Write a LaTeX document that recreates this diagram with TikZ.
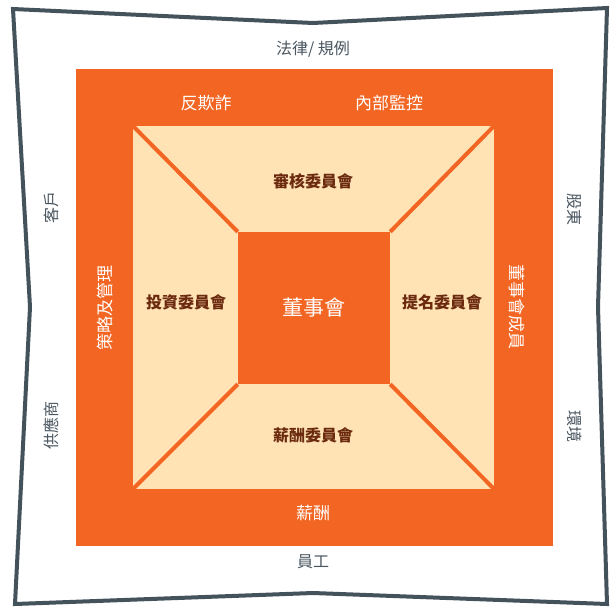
\documentclass[tikz,border=0pt]{standalone}
\usepackage{fontspec}
\setmainfont{Noto Sans CJK TC}

\definecolor{boardorange}{HTML}{F26522}
\definecolor{boardpeach}{HTML}{FFE3B5}
\definecolor{framegray}{HTML}{44525C}
\definecolor{labelgray}{HTML}{4A5660}
\definecolor{committeebrown}{HTML}{6B2A0E}

\begin{document}
\begin{tikzpicture}[x=1pt,y=-1pt]

\tikzstyle{outerlabel}=[text=labelgray,font=\fontsize{16}{16}\selectfont]
\tikzstyle{bandlabel}=[text=white,font=\fontsize{17}{17}\selectfont]
\tikzstyle{committee}=[text=committeebrown,font=\fontsize{16}{16}\selectfont\bfseries]
\tikzstyle{diagonal}=[draw=boardorange,line width=4pt]

\useasboundingbox (0,0) rectangle (613,608);

% pinched outer frame
\draw[framegray,line width=4pt,fill=white] (13,9) -- (313,23) -- (607,8)
  -- (598,307) -- (607,604) -- (313,593) -- (15,604) -- (30,307) -- cycle;

\node[fill=boardorange,minimum size=477pt,inner sep=0pt] (band) at (314.5,307.5) {};
\node[fill=boardpeach,minimum width=361pt,minimum height=363pt,inner sep=0pt] (ring) at (313.5,307.5) {};
\node[fill=boardorange,minimum size=152pt,inner sep=0pt,text=white,
  font=\fontsize{21}{21}\selectfont] (board) at (314,308) {董事會};

\draw[diagonal] (ring.north west) -- (board.north west);
\draw[diagonal] (ring.north east) -- (board.north east);
\draw[diagonal] (ring.south west) -- (board.south west);
\draw[diagonal] (ring.south east) -- (board.south east);

\node[outerlabel] (law) at (313,49) {法律/ 規例};
\node[outerlabel] (staff) at (313,562) {員工};
\node[outerlabel,rotate=90] (clients) at (51,207) {客戶};
\node[outerlabel,rotate=90] (suppliers) at (51,425) {供應商};
\node[outerlabel,rotate=-90] (shareholders) at (575,209) {股東};
\node[outerlabel,rotate=-90] (environment) at (575,426) {環境};

\node[bandlabel] (fraud) at (206,103) {反欺詐};
\node[bandlabel] (control) at (389,103) {內部監控};
\node[bandlabel] (pay) at (313,513) {薪酬};
\node[bandlabel,rotate=90] (strategy) at (105,308) {策略及管理};
\node[bandlabel,rotate=-90] (members) at (517,307) {董事會成員};

\node[committee] (audit) at (313,181) {審核委員會};
\node[committee] (invest) at (186,302) {投資委員會};
\node[committee] (nominate) at (442,302) {提名委員會};
\node[committee] (remun) at (313,435) {薪酬委員會};
\end{tikzpicture}
\end{document}
